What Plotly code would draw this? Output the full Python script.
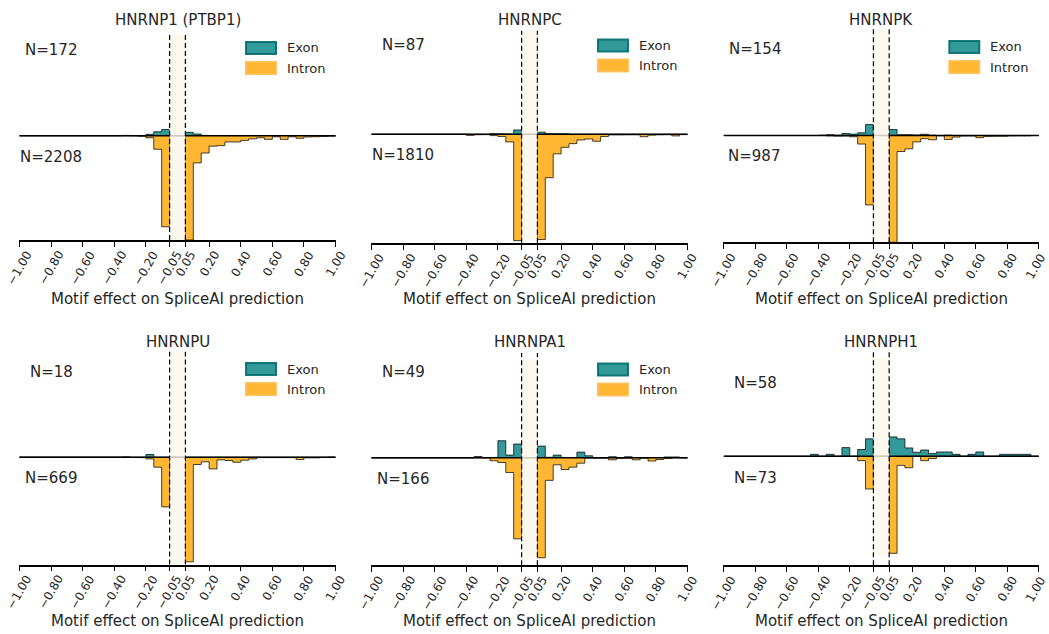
import plotly.graph_objects as go

W, H = 1049, 634

# ---------------- data ----------------
bin_edges = [-1.00, -0.95, -0.90, -0.85, -0.80, -0.75, -0.70, -0.65, -0.60, -0.55,
             -0.50, -0.45, -0.40, -0.35, -0.30, -0.25, -0.20, -0.15, -0.10, -0.05,
             0.00, 0.05, 0.10, 0.15, 0.20, 0.25, 0.30, 0.35, 0.40, 0.45,
             0.50, 0.55, 0.60, 0.65, 0.70, 0.75, 0.80, 0.85, 0.90, 0.95, 1.00]

tick_vals = [-1.0, -0.8, -0.6, -0.4, -0.2, -0.05, 0.05, 0.2, 0.4, 0.6, 0.8, 1.0]
tick_text = ["\u22121.00", "\u22120.80", "\u22120.60", "\u22120.40", "\u22120.20", "\u22120.05",
             "0.05", "0.20", "0.40", "0.60", "0.80", "1.00"]

panel_names = ["HNRNP1 (PTBP1)", "HNRNPC", "HNRNPK", "HNRNPU", "HNRNPA1", "HNRNPH1"]
n_exon = [172, 87, 154, 18, 49, 58]
n_intron = [2208, 1810, 987, 669, 166, 73]

exon_hnrnp1 = [0, 0, 0, 0, 0, 0, 0, 0, 0, 0,
               0, 0, 0, 0.003, 0, 0, 0.013, 0.038, 0.060, 0,
               0, 0.032, 0.016, 0.003, 0, 0, 0, 0, 0, 0,
               0, 0, 0, 0, 0, 0, 0, 0, 0, 0]
intron_hnrnp1 = [0, 0, 0, 0, 0, 0, 0, 0, 0, 0,
                 0, 0, 0, 0, 0, 0.005, 0.020, 0.130, 0.873, 0,
                 0, 1.000, 0.261, 0.166, 0.100, 0.095, 0.060, 0.060, 0.045, 0.030,
                 0.020, 0.035, 0.010, 0.035, 0.010, 0.025, 0.012, 0.010, 0.008, 0.004]

exon_hnrnpc = [0, 0, 0, 0, 0, 0, 0, 0, 0, 0,
               0, 0, 0, 0, 0, 0.006, 0.004, 0.003, 0.040, 0,
               0, 0.020, 0.006, 0.005, 0.005, 0, 0, 0, 0, 0,
               0, 0, 0, 0, 0, 0, 0, 0, 0, 0]
intron_hnrnpc = [0, 0, 0, 0, 0, 0, 0, 0, 0, 0,
                 0, 0, 0.010, 0.004, 0.003, 0.012, 0.020, 0.070, 0.980, 0,
                 0, 0.970, 0.400, 0.180, 0.120, 0.086, 0.052, 0.043, 0.064, 0.020,
                 0.006, 0.006, 0.005, 0.005, 0.022, 0.008, 0.005, 0.004, 0.015, 0.003]

exon_hnrnpk = [0, 0, 0, 0, 0, 0, 0, 0, 0, 0,
               0, 0, 0.003, 0.008, 0.003, 0.019, 0.013, 0.025, 0.103, 0,
               0, 0.056, 0.008, 0.008, 0.005, 0.012, 0.003, 0, 0.003, 0,
               0, 0, 0, 0, 0, 0, 0, 0, 0, 0]
intron_hnrnpk = [0, 0, 0, 0, 0, 0, 0, 0, 0, 0,
                 0, 0, 0, 0.003, 0.006, 0.005, 0.012, 0.080, 0.650, 0,
                 0, 1.000, 0.150, 0.125, 0.060, 0.030, 0.040, 0.003, 0.037, 0.015,
                 0.005, 0.005, 0.020, 0.010, 0.008, 0.008, 0.004, 0.003, 0.003, 0]

exon_hnrnpu = [0, 0, 0, 0, 0, 0, 0, 0, 0, 0,
               0, 0, 0, 0.003, 0, 0, 0.025, 0, 0, 0,
               0, 0, 0, 0, 0, 0, 0, 0, 0, 0,
               0, 0, 0, 0, 0, 0, 0, 0, 0, 0]
intron_hnrnpu = [0, 0, 0, 0, 0, 0, 0, 0, 0, 0,
                 0, 0, 0, 0, 0.003, 0.004, 0.016, 0.093, 0.463, 0,
                 0, 0.975, 0.068, 0.043, 0.109, 0.025, 0.031, 0.047, 0.028, 0.016,
                 0.004, 0.004, 0.004, 0.004, 0.004, 0.022, 0.006, 0.006, 0.003, 0]

exon_hnrnpa1 = [0, 0, 0, 0, 0, 0, 0, 0, 0, 0,
                0, 0, 0, 0.012, 0, 0, 0.159, 0.025, 0.128, 0,
                0, 0.109, 0.005, 0.025, 0, 0, 0.053, 0.019, 0, 0,
                0.010, 0, 0.010, 0, 0, 0, 0, 0.008, 0.008, 0]
intron_hnrnpa1 = [0, 0, 0, 0, 0, 0, 0, 0, 0, 0,
                  0, 0, 0, 0, 0, 0.028, 0.044, 0.137, 0.754, 0,
                  0, 0.930, 0.210, 0.065, 0.109, 0.087, 0.050, 0.003, 0.003, 0.003,
                  0.019, 0.005, 0.004, 0.019, 0.003, 0.030, 0.016, 0.006, 0, 0]

exon_hnrnph1 = [0, 0, 0, 0, 0, 0, 0, 0, 0, 0,
                0, 0.018, 0, 0.018, 0, 0.080, 0, 0.062, 0.160, 0,
                0, 0.178, 0.160, 0.077, 0.037, 0.058, 0.025, 0.040, 0.040, 0.018,
                0, 0.018, 0.040, 0, 0, 0.018, 0.018, 0.018, 0.018, 0]
intron_hnrnph1 = [0, 0, 0, 0, 0, 0, 0, 0, 0, 0,
                  0, 0, 0, 0, 0, 0, 0, 0.040, 0.300, 0,
                  0, 0.890, 0.083, 0.105, 0, 0.040, 0.020, 0, 0, 0,
                  0, 0, 0, 0, 0, 0, 0, 0, 0, 0]

exon_series = [exon_hnrnp1, exon_hnrnpc, exon_hnrnpk, exon_hnrnpu, exon_hnrnpa1, exon_hnrnph1]
intron_series = [intron_hnrnp1, intron_hnrnpc, intron_hnrnpk, intron_hnrnpu, intron_hnrnpa1, intron_hnrnph1]

# ---------------- layout geometry (pixels) ----------------
# left, right, top, zero, bottom
geom = [
    (19.0, 336.0, 32.0, 135.7, 240.0),
    (371.0, 688.0, 30.7, 134.3, 242.8),
    (723.3, 1039.3, 29.3, 135.5, 242.3),
    (19.0, 336.0, 351.7, 457.2, 564.5),
    (371.0, 688.0, 353.0, 457.8, 565.3),
    (723.3, 1039.3, 351.0, 456.3, 565.3),
]
# beige band extent (up, down) in units of zero->bottom depth
band = [(0.97, 1.0), (0.98, 0.98), (0.99, 0.98), (0.98, 0.99), (0.92, 0.94), (0.90, 0.91)]
n_pos = [((51, 50), (51, 157)), ((403, 45), (403, 155)), ((755, 49), (754, 156)),
         ((51, 372), (51, 478)), ((403, 372), (403, 479)), ((755, 383), (755, 478))]
legend_top = [42, 39.5, 41, 363, 363.5, None]
title_y = [20, 20, 20, 341.5, 341.5, 341.5]
xlabel_y = [299, 299, 299, 621, 621, 621]

FONT = "DejaVu Sans"
TXT = "#262626"
EXON_FILL = "rgba(0,128,128,0.8)"
INTRON_FILL = "rgba(255,165,0,0.8)"
EDGE = "rgba(0,0,0,0.72)"


def px_x(x):
    return x / W


def px_y(y):
    return 1 - y / H


fig = go.Figure()
shapes = []
annotations = []

for k in range(6):
    L, R, T, Z, B = geom[k]
    depth = B - Z
    ytop = (Z - T) / depth
    ax = "" if k == 0 else str(k + 1)
    xa, ya = "x" + ax, "y" + ax

    fig.update_layout(**{
        "xaxis" + ax: dict(domain=[px_x(L), px_x(R)], range=[-1.003, 1.003], anchor=ya,
                           tickmode="array", tickvals=tick_vals, showticklabels=False,
                           ticks="outside", ticklen=5, tickwidth=1,
                           tickcolor="black", showline=True, linecolor="black", linewidth=1.5,
                           showgrid=False, zeroline=False, automargin=False),
        "yaxis" + ax: dict(domain=[px_y(B), px_y(T)], range=[-1, ytop], anchor=xa,
                           visible=False, showgrid=False, zeroline=False, automargin=False),
    })

    ex = exon_series[k]
    it = intron_series[k]
    fig.add_trace(go.Scatter(x=bin_edges, y=ex + [ex[-1]], mode="lines", line_shape="hv",
                             fill="tozeroy", fillcolor=EXON_FILL,
                             line=dict(color=EDGE, width=1), xaxis=xa, yaxis=ya,
                             showlegend=False, hoverinfo="skip"))
    fig.add_trace(go.Scatter(x=bin_edges, y=[-v for v in it] + [-it[-1]], mode="lines",
                             line_shape="hv", fill="tozeroy", fillcolor=INTRON_FILL,
                             line=dict(color=EDGE, width=1), xaxis=xa, yaxis=ya,
                             showlegend=False, hoverinfo="skip"))

    # zero line
    shapes.append(dict(type="line", xref=xa, yref=ya, x0=-1, x1=1, y0=0, y1=0,
                       line=dict(color="black", width=1.5), layer="above"))
    # beige band
    bu, bd = band[k]
    shapes.append(dict(type="rect", xref=xa, yref=ya, x0=-0.05, x1=0.05, y0=-bd, y1=bu,
                       fillcolor="rgba(252,246,233,0.82)", line=dict(width=0), layer="above"))
    # dashed lines
    for xv in (-0.05, 0.05):
        shapes.append(dict(type="line", xref=xa, yref=ya + " domain", x0=xv, x1=xv, y0=0, y1=1,
                           line=dict(color="black", width=1.2, dash="5px,3px"), layer="above"))

    # rotated tick labels, centred under the ticks (matplotlib style)
    for tv, tt in zip(tick_vals, tick_text):
        xs = -3 if (k in (2, 5) and tv == 1.0) else 0
        annotations.append(dict(text=tt, x=tv, y=0, xref=xa, yref=ya + " domain",
                                showarrow=False, textangle=-60, xanchor="center",
                                yanchor="top", yshift=-7, xshift=xs, borderpad=0,
                                font=dict(family=FONT, size=12, color=TXT)))

    cx = (L + R) / 2
    annotations.append(dict(text=panel_names[k], x=px_x(cx), y=px_y(title_y[k]), xref="paper",
                            yref="paper", showarrow=False, xanchor="center", yanchor="middle",
                            font=dict(family=FONT, size=15, color=TXT)))
    annotations.append(dict(text="Motif effect on SpliceAI prediction", x=px_x(cx),
                            y=px_y(xlabel_y[k]), xref="paper", yref="paper", showarrow=False,
                            xanchor="center", yanchor="middle",
                            font=dict(family=FONT, size=15, color=TXT)))
    (ux, uy), (lx, ly) = n_pos[k]
    annotations.append(dict(text="N=%d" % n_exon[k], x=px_x(ux), y=px_y(uy), xref="paper",
                            yref="paper", showarrow=False, xanchor="center", yanchor="middle",
                            font=dict(family=FONT, size=15, color=TXT)))
    annotations.append(dict(text="N=%d" % n_intron[k], x=px_x(lx), y=px_y(ly), xref="paper",
                            yref="paper", showarrow=False, xanchor="center", yanchor="middle",
                            font=dict(family=FONT, size=15, color=TXT)))

    lt = legend_top[k]
    if lt is not None:
        for j, (lab, fc, lc) in enumerate([("Exon", EXON_FILL, "rgba(0,110,110,0.9)"),
                                           ("Intron", INTRON_FILL, "rgba(255,190,80,0.9)")]):
            y0 = lt + 20 * j
            shapes.append(dict(type="rect", xref="paper", yref="paper",
                               x0=px_x(R - 90), x1=px_x(R - 60), y0=px_y(y0 + 12), y1=px_y(y0),
                               fillcolor=fc, line=dict(color=lc, width=2)))
            annotations.append(dict(text=lab, x=px_x(R - 51), y=px_y(y0 + 6), xref="paper",
                                    yref="paper", showarrow=False, xanchor="left",
                                    yanchor="middle",
                                    font=dict(family=FONT, size=13, color=TXT)))

fig.update_layout(width=W, height=H, margin=dict(l=0, r=0, t=0, b=0, autoexpand=False),
                  paper_bgcolor="white", plot_bgcolor="rgba(0,0,0,0)",
                  shapes=shapes, annotations=annotations, showlegend=False,
                  font=dict(family=FONT, color=TXT))

fig.write_html("out.html", config={"displayModeBar": False},
               post_script="document.body.style.margin='0px';"
                           "document.body.style.overflow='hidden';")
